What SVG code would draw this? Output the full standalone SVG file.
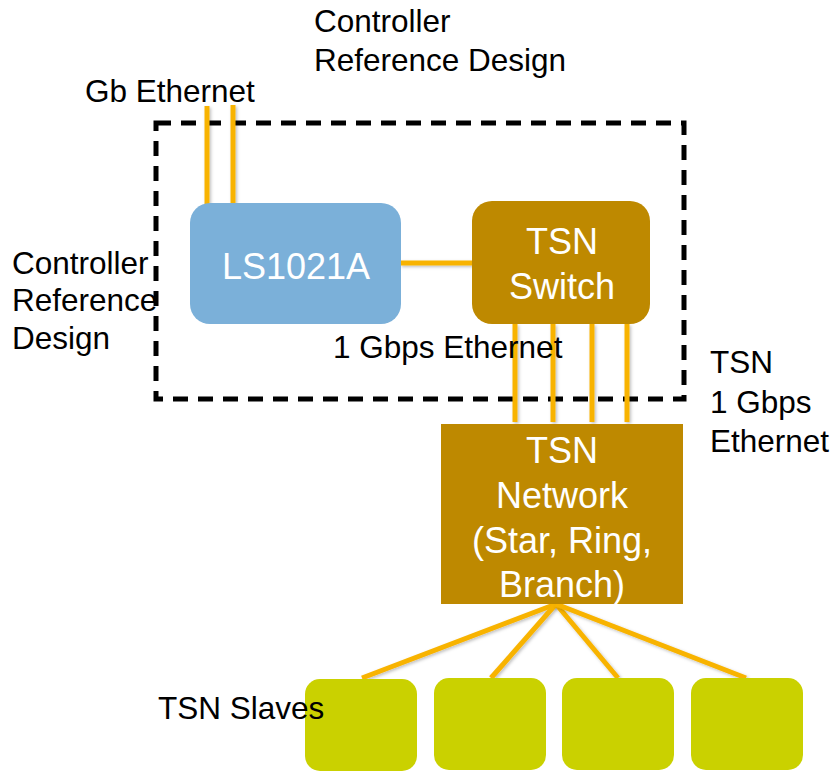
<svg xmlns="http://www.w3.org/2000/svg" width="835" height="772" viewBox="0 0 835 772">
<defs>
<filter id="sh" filterUnits="userSpaceOnUse" x="0" y="0" width="835" height="772">
<feDropShadow dx="1.5" dy="1.5" stdDeviation="1.5" flood-color="#000" flood-opacity="0.25"/>
</filter>
</defs>
<style>
.lbl{font-family:"Liberation Sans",Arial,sans-serif;font-size:31.5px;fill:#000}
.wt{font-family:"Liberation Sans",Arial,sans-serif;font-size:36px;fill:#fff;text-anchor:middle}
.ln{stroke:#F8B300;stroke-width:5;fill:none;filter:url(#sh)}
.gold{fill:#BE8900}
.slave{fill:#CAD100}
</style>
<rect width="835" height="772" fill="#fff"/>
<g id="boundary">
<rect x="156" y="123" width="528" height="276" fill="none" stroke="#000" stroke-width="5" stroke-dasharray="15 10"/>
</g>
<g id="connectors">
<line class="ln" x1="207" y1="106" x2="207" y2="204"/>
<line class="ln" x1="233" y1="105" x2="233" y2="204"/>
<line class="ln" x1="400" y1="263" x2="473" y2="263"/>
<line class="ln" x1="515" y1="324" x2="515" y2="422"/>
<line class="ln" x1="553" y1="324" x2="553" y2="422"/>
<line class="ln" x1="592" y1="324" x2="592" y2="422"/>
<line class="ln" x1="627" y1="324" x2="627" y2="422"/>
<line class="ln" x1="556" y1="604" x2="362" y2="678"/>
<line class="ln" x1="556" y1="604" x2="491" y2="678"/>
<line class="ln" x1="556" y1="604" x2="618" y2="678"/>
<line class="ln" x1="556" y1="604" x2="746" y2="678"/>
</g>
<g id="ls1021a">
<rect x="190" y="203" width="211" height="121" rx="20" fill="#7BB0D9"/>
<text class="wt" x="296" y="279">LS1021A</text>
</g>
<g id="tsn-switch">
<rect x="472" y="201" width="178" height="123" rx="20" class="gold"/>
<text class="wt" x="562" y="254">TSN</text>
<text class="wt" x="562" y="299">Switch</text>
</g>
<g id="tsn-network">
<rect x="441" y="424" width="242" height="180" class="gold"/>
<text class="wt" x="562" y="463">TSN</text>
<text class="wt" x="562" y="508">Network</text>
<text class="wt" x="562" y="553">(Star, Ring,</text>
<text class="wt" x="562" y="597">Branch)</text>
</g>
<g id="slave1"><rect x="305" y="679" width="112" height="92" rx="15" class="slave"/></g>
<g id="slave2"><rect x="434" y="678" width="112" height="92" rx="15" class="slave"/></g>
<g id="slave3"><rect x="562" y="678" width="112" height="92" rx="15" class="slave"/></g>
<g id="slave4"><rect x="691" y="678" width="112" height="92" rx="15" class="slave"/></g>
<g id="labels">
<text class="lbl" x="314" y="32">Controller</text>
<text class="lbl" x="314" y="71">Reference Design</text>
<text class="lbl" x="85" y="102">Gb Ethernet</text>
<text class="lbl" x="12" y="274">Controller</text>
<text class="lbl" x="12" y="311">Reference</text>
<text class="lbl" x="12" y="349">Design</text>
<text class="lbl" x="333" y="358">1 Gbps Ethernet</text>
<text class="lbl" x="710" y="373">TSN</text>
<text class="lbl" x="710" y="413">1 Gbps</text>
<text class="lbl" x="710" y="452">Ethernet</text>
<text class="lbl" x="158" y="719">TSN Slaves</text>
</g>
</svg>
